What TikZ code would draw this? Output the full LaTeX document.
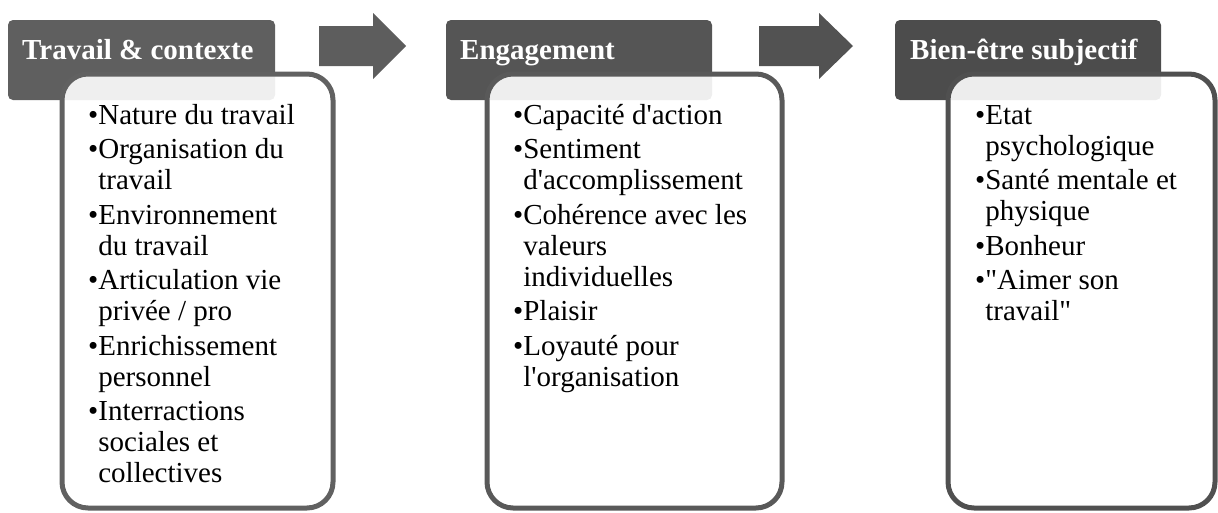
\documentclass[tikz,border=0pt]{standalone}
\usepackage{fontspec}
\setmainfont{Liberation Serif}[Ligatures=TeXOff]
\begin{document}
\definecolor{hA}{HTML}{5F5F5F}
\definecolor{hB}{HTML}{555555}
\definecolor{hC}{HTML}{4C4C4C}
\definecolor{aA}{HTML}{5D5D5D}
\definecolor{aB}{HTML}{525252}
\definecolor{bA}{HTML}{616161}
\definecolor{bB}{HTML}{595959}
\definecolor{bC}{HTML}{505050}
\newcommand{\bu}{•}
\newcommand{\ind}{\hphantom{•}}
\begin{tikzpicture}[x=1pt,y=-1pt,
  headbox/.style={rounded corners=5pt},
  contentbox/.style={rounded corners=26pt, line width=5pt, fill=white, fill opacity=0.9, draw opacity=1},
  blockarrow/.style={},
  headtext/.style={anchor=base west, inner sep=0pt, text=white, font=\fontsize{29}{31}\selectfont\bfseries},
  bodytext/.style={anchor=north west, inner sep=0pt, align=left, text=black, font=\fontsize{29}{31}\selectfont}]
\useasboundingbox (0,0) rectangle (1218,512);
% headers
\fill[headbox, hA] (8,20) rectangle (275,100);
\fill[headbox, hB] (446,20) rectangle (712,100);
\fill[headbox, hC] (895,20) rectangle (1161,100);
% arrows
\fill[aA] (319,26) -- (373,26) -- (373,13) -- (406,46) -- (373,79) -- (373,66) -- (319,66) -- cycle;
\fill[aB] (759,26) -- (819,26) -- (819,13) -- (853,46) -- (819,79) -- (819,66) -- (759,66) -- cycle;
% content boxes
\draw[contentbox, draw=bA] (62,74) rectangle (333,508);
\draw[contentbox, draw=bB] (487,74) rectangle (782,508);
\draw[contentbox, draw=bC] (948,74) rectangle (1215,508);
% header texts
\node[headtext] (t1) at (22,59) {Travail \& contexte};
\node[headtext] (t2) at (460,59) {Engagement};
\node[headtext] (t3) at (910,59) {Bien-être subjectif};
% body texts
\node[bodytext] (l1) at (88,99) {\rule{0pt}{25pt}\bu Nature du travail\\[3.5pt]
\bu Organisation du\\
\ind travail\\[3.5pt]
\bu Environnement\\
\ind du travail\\[3.5pt]
\bu Articulation vie\\
\ind privée / pro\\[3.5pt]
\bu Enrichissement\\
\ind personnel\\[3.5pt]
\bu Interractions\\
\ind sociales et\\
\ind collectives};
\node[bodytext] (l2) at (513,99) {\rule{0pt}{25pt}\bu Capacité d'action\\[3.5pt]
\bu Sentiment\\
\ind d'accomplissement\\[3.5pt]
\bu Cohérence avec les\\
\ind valeurs\\
\ind individuelles\\[3.5pt]
\bu Plaisir\\[3.5pt]
\bu Loyauté pour\\
\ind l'organisation};
\node[bodytext] (l3) at (975,99) {\rule{0pt}{25pt}\bu Etat\\
\ind psychologique\\[3.5pt]
\bu Santé mentale et\\
\ind physique\\[3.5pt]
\bu Bonheur\\[3.5pt]
\bu "Aimer son\\
\ind travail"};
\end{tikzpicture}
\end{document}
